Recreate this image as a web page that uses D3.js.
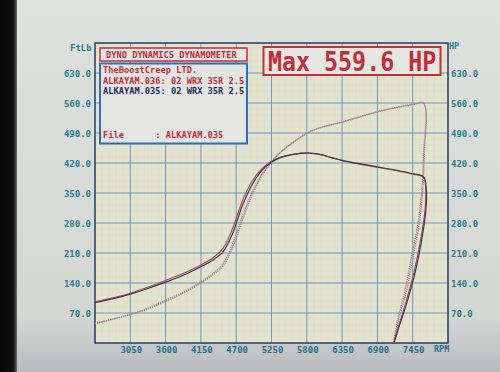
<!DOCTYPE html>
<html><head><meta charset="utf-8">
<script src="https://cdn.jsdelivr.net/npm/d3@7"></script>
<style>html,body{margin:0;padding:0;background:#d8dbd7;overflow:hidden}</style>
</head><body>
<svg id="c" width="500" height="372"></svg>
<script>
// ---- data ----
const rpmTicks = [3050, 3600, 4150, 4700, 5250, 5800, 6350, 6900, 7450];
const valueTicks = [70, 140, 210, 280, 350, 420, 490, 560, 630];

const rpm = [2500, 2800, 3050, 3300, 3600, 3900, 4150, 4350, 4500, 4650, 4800, 4950, 5100, 5250, 5400, 5600, 5800, 6000, 6200, 6350, 6600, 6900, 7200, 7450, 7620];
const torque035 = [94, 104, 114, 126, 142, 160, 178, 195, 214, 258, 322, 370, 403, 422, 433, 440, 443, 440, 432, 426, 419, 411, 403, 395, 388];
const torque036 = [96, 106, 116, 129, 146, 164, 182, 200, 222, 270, 333, 378, 407, 424, 434, 441, 444, 440, 432, 426, 418, 410, 402, 394, 387];
const power035 = [45, 56, 66, 78, 97, 118, 140, 160, 180, 225, 288, 345, 390, 421, 446, 469, 489, 502, 510, 516, 527, 540, 550, 557, 559.6];
const power036 = [46, 57, 67, 80, 100, 121, 143, 164, 186, 234, 298, 352, 394, 423, 447, 470, 490, 502, 510, 515, 526, 539, 549, 556, 558.8];

// run-down (deceleration) portions
const downRpmT035 = [7662, 7655, 7590, 7486, 7357, 7221, 7160];
const downT035 = [357, 310, 240, 163, 93, 30, 0];
const downRpmT036 = [7652, 7642, 7572, 7466, 7340, 7210, 7150];
const downT036 = [357, 310, 240, 163, 93, 30, 0];
const downRpmP035 = [7628, 7606, 7553, 7455, 7357, 7221, 7160];
const downP035 = [435, 357, 280, 201, 124, 47, 0];
const downRpmP036 = [7616, 7592, 7532, 7432, 7332, 7205, 7150];
const downP036 = [435, 357, 280, 201, 124, 47, 0];

const headerTitle = "DYNO DYNAMICS DYNAMOMETER";
const legendLines = ["TheBoostCreep LTD.", "ALKAYAM.036: 02 WRX 35R 2.5", "ALKAYAM.035: 02 WRX 35R 2.5"];
const fileLine = "File      : ALKAYAM.035";
const maxText = "Max 559.6 HP";

// ---- drawing ----
const svg = d3.select("#c");
const L = 95, R = 448, T = 43, B = 343;
const x = d3.scaleLinear().domain([2500, 8000]).range([L, R]);
const y = d3.scaleLinear().domain([0, 700]).range([B, T]);

const defs = svg.append("defs");
const bg = defs.append("linearGradient").attr("id", "bg").attr("x1", 0).attr("y1", 0).attr("x2", 0).attr("y2", 1);
bg.append("stop").attr("offset", "0%").attr("stop-color", "#dfe1df");
bg.append("stop").attr("offset", "85%").attr("stop-color", "#d3d6d3");
bg.append("stop").attr("offset", "100%").attr("stop-color", "#b7bbbc");
const lg = defs.append("linearGradient").attr("id", "lg").attr("x1", 0).attr("y1", 0).attr("x2", 1).attr("y2", 0);
lg.append("stop").attr("offset", "0%").attr("stop-color", "#050505");
lg.append("stop").attr("offset", "80%").attr("stop-color", "#151515");
lg.append("stop").attr("offset", "100%").attr("stop-color", "#6a6c6a");

svg.append("rect").attr("width", 500).attr("height", 372).attr("fill", "url(#bg)");
svg.append("rect").attr("width", 17).attr("height", 372).attr("fill", "url(#lg)");

// plot background
svg.append("rect").attr("x", L).attr("y", T).attr("width", R - L).attr("height", B - T).attr("fill", "#e3e2cc");

// minor grid
const minorX = d3.range(2500, 8000, 110);
const minorY = d3.range(0, 700, 14);
svg.append("g").selectAll("line").data(minorX).join("line")
  .attr("x1", d => x(d)).attr("x2", d => x(d)).attr("y1", T).attr("y2", B)
  .attr("stroke", "#c3ccd0").attr("stroke-width", 0.5).attr("opacity", 0.25);
svg.append("g").selectAll("line").data(minorY).join("line")
  .attr("y1", d => y(d)).attr("y2", d => y(d)).attr("x1", L).attr("x2", R)
  .attr("stroke", "#c3ccd0").attr("stroke-width", 0.5).attr("opacity", 0.25);

// major grid
svg.append("g").selectAll("line").data(rpmTicks).join("line")
  .attr("x1", d => x(d)).attr("x2", d => x(d)).attr("y1", T).attr("y2", B)
  .attr("stroke", "#7199c4").attr("stroke-width", 1);
svg.append("g").selectAll("line").data(valueTicks).join("line")
  .attr("y1", d => y(d)).attr("y2", d => y(d)).attr("x1", L).attr("x2", R)
  .attr("stroke", "#7199c4").attr("stroke-width", 1);

// border
svg.append("rect").attr("x", L).attr("y", T).attr("width", R - L).attr("height", B - T)
  .attr("fill", "none").attr("stroke", "#1f3d68").attr("stroke-width", 1.5);

// axes labels
const axisColor = "#2b7f8c";
const font = "'DejaVu Sans Mono', 'Liberation Mono', monospace";
svg.append("g").selectAll("text").data(valueTicks).join("text")
  .attr("x", L - 4).attr("y", d => y(d) + 3.5).attr("text-anchor", "end")
  .attr("font-family", font).attr("font-weight", "bold").attr("font-size", 9)
  .attr("fill", axisColor).text(d => d.toFixed(1));
svg.append("g").selectAll("text").data(valueTicks).join("text")
  .attr("x", R + 3).attr("y", d => y(d) + 3.5).attr("text-anchor", "start")
  .attr("font-family", font).attr("font-weight", "bold").attr("font-size", 9)
  .attr("fill", axisColor).text(d => d.toFixed(1));
svg.append("g").selectAll("text").data(rpmTicks).join("text")
  .attr("x", d => x(d) + 1).attr("y", B + 10).attr("text-anchor", "middle")
  .attr("font-family", font).attr("font-weight", "bold").attr("font-size", 9)
  .attr("fill", "#2b6f8c").text(d => d);
svg.append("text").attr("x", R - 14).attr("y", B + 9).attr("font-family", font)
  .attr("font-weight", "bold").attr("font-size", 8.5).attr("fill", "#2b6f8c").text("RPM");
svg.append("text").attr("x", 70).attr("y", 51).attr("font-family", font)
  .attr("font-weight", "bold").attr("font-size", 9).attr("fill", axisColor).text("FtLb");
svg.append("text").attr("x", R + 1).attr("y", 49).attr("font-family", font)
  .attr("font-weight", "bold").attr("font-size", 8.5).attr("fill", axisColor).text("HP");

// curves
const line = d3.line().x(d => x(d[0])).y(d => y(d[1])).curve(d3.curveCatmullRom.alpha(0.5));
function series(vals, dRpm, dVals) {
  return rpm.map((r, i) => [r, vals[i]]).concat(dRpm.map((r, i) => [r, dVals[i]]));
}
const curves = [
  {d: series(power036, downRpmP036, downP036), c: "#b77a86", w: 1.3, dash: "1.3,0.9"},
  {d: series(power035, downRpmP035, downP035), c: "#8d8a96", w: 1.3, dash: "1.3,0.9"},
  {d: series(torque036, downRpmT036, downT036), c: "#a8465a", w: 1.1, dash: null},
  {d: series(torque035, downRpmT035, downT035), c: "#3d3a4e", w: 1.2, dash: null}
];
svg.append("g").selectAll("path").data(curves).join("path")
  .attr("d", d => line(d.d)).attr("fill", "none").attr("stroke", d => d.c)
  .attr("stroke-width", d => d.w).attr("stroke-dasharray", d => d.dash);

// header box
const red = "#bf2f3c";
svg.append("rect").attr("x", 100).attr("y", 48).attr("width", 147).attr("height", 13)
  .attr("fill", "#e4e5e2").attr("stroke", red).attr("stroke-width", 1.5);
svg.append("text").attr("x", 106).attr("y", 58).attr("font-family", font).attr("font-weight", "bold")
  .attr("font-size", 8.7).attr("fill", red).text(headerTitle);

// legend box
svg.append("rect").attr("x", 100).attr("y", 63.5).attr("width", 147).attr("height", 80)
  .attr("fill", "#e4e5e2").attr("stroke", "#2f6db5").attr("stroke-width", 2);
const legColors = [red, red, "#1f2e5c"];
svg.append("g").selectAll("text").data(legendLines).join("text")
  .attr("x", 103).attr("y", (d, i) => 73 + i * 10.5)
  .attr("font-family", font).attr("font-weight", "bold").attr("font-size", 8.7)
  .attr("fill", (d, i) => legColors[i]).text(d => d);
svg.append("text").attr("x", 103).attr("y", 138).attr("font-family", font).attr("font-weight", "bold")
  .attr("font-size", 8.7).attr("fill", red).attr("xml:space", "preserve").style("white-space", "pre").text(fileLine);

// max box
svg.append("rect").attr("x", 263.5).attr("y", 47).attr("width", 177).attr("height", 28)
  .attr("fill", "#e6e6e3").attr("stroke", red).attr("stroke-width", 2);
svg.append("text").attr("transform", "translate(268,70.5) scale(1,1.15)").attr("font-family", font).attr("font-weight", "bold")
  .attr("font-size", 23.3).attr("fill", red).text(maxText);
</script>
</body></html>
